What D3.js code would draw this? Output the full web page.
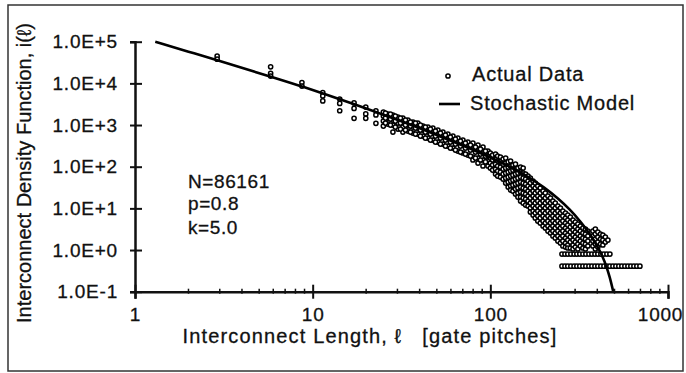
<!DOCTYPE html>
<html><head><meta charset="utf-8">
<script src="https://cdn.jsdelivr.net/npm/d3@7"></script>
<style>
html,body{margin:0;padding:0;background:#fff;}
svg{display:block;}
text{font-family:"Liberation Sans",Arial,Helvetica,sans-serif;fill:#111;stroke:#111;stroke-width:0.3px;}
</style></head>
<body><svg id="c" width="686" height="373"></svg>
<script>
// ---------- data ----------
const xTickValues = [1, 10, 100, 1000];
const xTickLabels = ["1", "10", "100", "1000"];
const xMinorTicks = [2,3,4,5,6,7,8,9,20,30,40,50,60,70,80,90,200,300,400,500,600,700,800,900];
const yTickValues = [0.1, 1, 10, 100, 1000, 10000, 100000];
const yTickLabels = ["1.0E-1","1.0E+0","1.0E+1","1.0E+2","1.0E+3","1.0E+4","1.0E+5"];

// Stochastic model curve
const modelLength  = [1.3, 2, 3, 6, 9, 12, 17, 23, 30, 50, 70, 100, 130, 160, 200, 240, 280, 320, 350, 375, 400, 425, 450, 470, 492];
const modelDensity = [100000, 57700, 34300, 13900, 8040, 5330, 3200, 2010, 1330, 574, 322, 166, 97, 59.7, 31.9, 17.2, 9.3, 4.9, 3.0, 1.95, 1.22, 0.74, 0.40, 0.22, 0.10];

// Actual data: lengths and the density values observed at each length
const dataLengths = [2.9, 5.8, 8.7, 11.4, 14.2, 17.1, 19.9, 22.7,
  25, 26.5, 28.3, 30.2, 32.2, 34.4, 36.7, 39.1, 41.8, 44.6, 47.5, 50.7, 54.1, 57.7, 61.6, 65.7, 70.1, 74.8, 79.8, 85.2, 90.9,
  97, 100, 103, 107, 110, 114, 118, 122, 126, 130, 134, 138.5, 143, 148, 153, 158, 163, 168, 174, 179, 185, 191, 198, 204,
  211, 218, 225, 232, 240, 248, 256, 265, 273, 282, 292, 301, 311, 321, 332, 343, 354, 378, 390, 403, 417, 430, 444, 459];
const dataDensities = [
  [45000, 38000], [25000, 17500, 15000], [10500, 8600], [6000, 5000, 3800], [4200, 3300, 2200],
  [3400, 2500, 1450], [2700, 1850, 1450], [2200, 1750, 1100],
  [2050, 1645, 1246, 945], [1836, 1470, 1057], [1736, 1318, 999, 678], [1554, 1116, 801], [1470, 1180, 894, 678],
  [1318, 999, 717], [1180, 894, 642], [1116, 846, 608], [945, 758, 544], [894, 678, 487], [846, 642, 436],
  [758, 575, 390], [678, 515, 350], [608, 461, 313], [544, 413, 280], [487, 369, 237], [436, 331, 213],
  [390, 296, 190], [369, 265, 170, 145], [331, 237, 161, 122], [296, 213, 145, 104],
  [237, 180, 137, 104], [213, 161, 122, 92.8], [190, 145, 110, 83.1], [201, 153, 115, 87.8, 66.6],
  [180, 137, 104, 78.6, 59.6], [170, 130, 98.1, 74.4, 56.4], [153, 115, 87.8, 66.6, 50.5],
  [161, 122, 92.8, 70.4, 53.4, 40.5], [130, 98.1, 74.4, 56.4, 42.8, 32.5], [137, 104, 78.6, 59.6, 45.2, 34.3, 27.5],
  [110, 83.1, 63.0, 47.8, 36.3, 26.0], [115, 87.8, 66.6, 50.5, 38.3, 29.1, 22.0], [92.8, 70.4, 53.4, 40.5, 30.8, 23.3, 18.7],
  [98.1, 74.4, 56.4, 42.8, 32.5, 24.6, 18.7, 15.0], [92.8, 70.4, 53.4, 40.5, 30.8, 23.3, 17.7, 13.4],
  [66.6, 50.5, 38.3, 29.1, 22.0, 16.7, 12.0], [59.6, 45.2, 34.3, 26.0, 19.8, 15.0, 11.4],
  [53.4, 40.5, 30.8, 23.3, 17.7, 13.4, 10.2, 8.16], [45.2, 34.3, 26.0, 19.8, 15.0, 11.4, 8.62, 6.91],
  [40.5, 30.8, 23.3, 17.7, 13.4, 10.2, 7.72, 5.86], [34.3, 26.0, 19.8, 15.0, 11.4, 8.62, 6.54, 4.96],
  [30.8, 23.3, 17.7, 13.4, 10.2, 7.72, 5.86, 4.44], [26.0, 19.8, 15.0, 11.4, 8.62, 6.54, 4.96, 3.77],
  [23.3, 17.7, 13.4, 10.2, 7.72, 5.86, 4.44, 3.37], [19.8, 15.0, 11.4, 8.62, 6.54, 4.96, 3.77, 2.85],
  [17.7, 13.4, 10.2, 7.72, 5.86, 4.44, 3.37, 2.56], [15.0, 11.4, 8.62, 6.54, 4.96, 3.77, 2.85, 2.17],
  [13.4, 10.2, 7.72, 5.86, 4.44, 3.37, 2.56, 1.94], [11.4, 8.62, 6.54, 4.96, 3.77, 2.85, 2.17, 1.64],
  [10.2, 7.72, 5.86, 4.44, 3.37, 2.56, 1.94, 1.47], [8.62, 6.54, 4.96, 3.77, 2.85, 2.17, 1.64, 1.25],
  [7.72, 5.86, 4.44, 3.37, 2.56, 1.94, 1.47, 1.18], [6.91, 5.24, 3.98, 3.02, 2.29, 1.73, 1.32, 1.12],
  [6.19, 4.69, 3.56, 2.70, 2.05, 1.55, 1.12], [5.24, 3.98, 3.02, 2.29, 1.73, 1.32, 1.06],
  [4.69, 3.56, 2.70, 2.05, 1.55, 1.18], [4.20, 3.19, 2.42, 1.83, 1.39, 1.06],
  [3.77, 2.85, 2.17, 1.64, 1.25], [3.37, 2.56, 1.94, 1.47, 1.12], [3.19, 2.42, 1.83, 1.39, 1.06],
  [2.85, 2.17, 1.64, 1.25], [2.85, 2.17, 1.64, 1.25], [3.19, 2.42, 1.83, 1.39, 1.06],
  [2.70, 2.05, 1.55, 1.18], [2.42, 1.83, 1.39], [2.29, 1.73, 1.32], [2.05, 1.55], [1.73]
];
// additional lengths in the 25-95 band
const midLengths = [25.7, 27.4, 29.2, 31.2, 33.3, 35.5, 37.9, 40.4, 43.1, 46.0, 49.1, 52.4, 55.9, 59.6, 63.6, 67.9, 72.4, 77.3, 82.5, 88.0, 93.9];
const midDensities = [
  [1939, 1470, 1116], [1836, 1392, 999], [1643, 1246, 894], [1470, 1116, 801], [1318, 999, 758],
  [1180, 945, 678], [1116, 846, 608], [999, 758, 544], [894, 678, 487], [801, 608, 436],
  [717, 544, 390], [642, 487, 350], [575, 436, 313], [515, 390, 280], [461, 350, 251],
  [413, 313, 224], [369, 280, 201], [331, 251, 180], [296, 224, 161], [265, 201, 145], [237, 180, 130]
];
// The two flat rows of points at the low end
const rowUpperLengths = [253, 263, 273, 284, 296, 307, 319, 332, 345, 359, 373, 388, 403, 419, 436, 453, 471];
const rowUpperDensity = 0.8;
const rowLowerLengths = [253, 263, 273, 284, 296, 307, 319, 332, 345, 359, 373, 388, 403, 419, 436, 453, 471, 490, 509, 529, 550, 572, 595, 618, 643, 668, 695];
const rowLowerDensity = 0.41;

const annotations = ["N=86161", "p=0.8", "k=5.0"];
const legendLabels = ["Actual Data", "Stochastic Model"];

// ---------- drawing ----------
const svg = d3.select("#c");
const x = d3.scaleLog().domain([1, 1000]).range([135, 668]);
const y = d3.scaleLog().domain([0.1, 100000]).range([291.7, 41.7]);

// outer frame
svg.append("rect").attr("x", 8).attr("y", 5).attr("width", 675).attr("height", 366)
  .attr("fill", "none").attr("stroke", "#333").attr("stroke-width", 1.5);

// points
const pts = [];
dataLengths.forEach((l, i) => dataDensities[i].forEach(v => pts.push([l, v])));
midLengths.forEach((l, i) => midDensities[i].forEach(v => pts.push([l, v])));
rowUpperLengths.forEach(l => pts.push([l, rowUpperDensity]));
rowLowerLengths.forEach(l => pts.push([l, rowLowerDensity]));

svg.append("g").selectAll("circle").data(pts).join("circle")
  .attr("cx", d => x(d[0])).attr("cy", d => y(d[1])).attr("r", 2.1)
  .attr("fill", "#fff").attr("stroke", "#000").attr("stroke-width", 1.5);

// model line
const model = modelLength.map((l, i) => [l, modelDensity[i]]);
svg.append("path").datum(model)
  .attr("d", d3.line().x(d => x(d[0])).y(d => y(d[1])).curve(d3.curveMonotoneX))
  .attr("fill", "none").attr("stroke", "#000").attr("stroke-width", 2.6);

// axes
const fmtX = d => xTickLabels[xTickValues.indexOf(d)];
const fmtY = d => yTickLabels[yTickValues.indexOf(d)];

const gx = svg.append("g").attr("transform", "translate(0,291.7)")
  .call(d3.axisBottom(x).tickValues(xTickValues).tickFormat(fmtX).tickSizeOuter(0).tickSize(7).tickPadding(9));
gx.select(".domain").attr("stroke", "#111").attr("stroke-width", 2.5);
gx.selectAll(".tick line").attr("y1", -7).attr("stroke", "#111").attr("stroke-width", 2);
gx.selectAll(".tick text").attr("font-size", 19).attr("font-family", null).attr("fill", null).style("letter-spacing", "0.8px")
  .attr("dy", "0.71em").attr("dx", d => d === 1000 ? -8 : 0);
gx.selectAll(".minor").data(xMinorTicks).join("line").attr("class", "minor")
  .attr("x1", d => x(d)).attr("x2", d => x(d)).attr("y1", -3).attr("y2", 2)
  .attr("stroke", "#111").attr("stroke-width", 1.5);

const gy = svg.append("g").attr("transform", "translate(135,0)")
  .call(d3.axisLeft(y).tickValues(yTickValues).tickFormat(fmtY).tickSizeOuter(0).tickSize(5).tickPadding(12));
gy.select(".domain").attr("stroke", "#111").attr("stroke-width", 2.5);
gy.selectAll(".tick line").attr("x1", 7).attr("stroke", "#111").attr("stroke-width", 2);
gy.selectAll(".tick text").attr("font-size", 19).attr("font-family", null).attr("fill", null).style("letter-spacing", "0.8px");

// axis titles
svg.append("text").attr("x", 370).attr("y", 343).attr("text-anchor", "middle")
  .attr("font-size", 20).style("white-space", "pre").style("letter-spacing", "1.15px")
  .text("Interconnect Length, \u2113   [gate pitches]");
svg.append("text").attr("transform", "translate(31,173) rotate(-90)").attr("text-anchor", "middle")
  .attr("font-size", 20).text("Interconnect Density Function, i(\u2113)");

// annotations
const annY = [188, 210, 234];
svg.append("g").selectAll("text").data(annotations).join("text")
  .attr("x", 188).attr("y", (d, i) => annY[i]).attr("font-size", 19).style("letter-spacing", "0.6px").text(d => d);

// legend
svg.append("circle").attr("cx", 448).attr("cy", 76).attr("r", 2.1)
  .attr("fill", "#fff").attr("stroke", "#000").attr("stroke-width", 1.5);
svg.append("line").attr("x1", 439).attr("x2", 460).attr("y1", 104).attr("y2", 104)
  .attr("stroke", "#000").attr("stroke-width", 2.6);
svg.append("g").selectAll("text").data(legendLabels).join("text")
  .attr("x", (d, i) => i === 0 ? 472 : 470).attr("y", (d, i) => i === 0 ? 81 : 110)
  .attr("font-size", 20).style("letter-spacing", "0.8px").text(d => d);
</script></body></html>
